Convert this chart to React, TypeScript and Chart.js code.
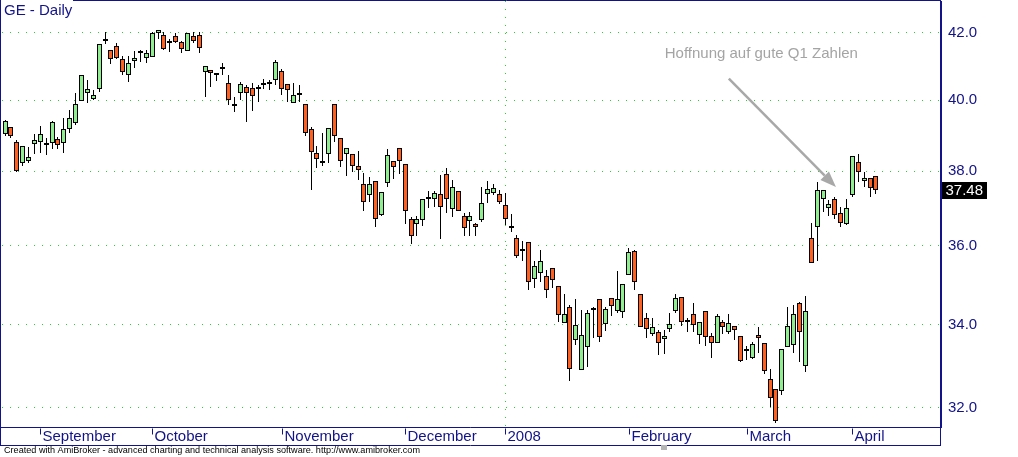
import React, { useEffect, useRef } from 'react';
import { Chart, registerables } from 'chart.js';

Chart.register(...registerables);

// ---- Data (GE daily OHLC) ----
const openPrices = [
  39.03, 39.23, 38.81, 38.22, 38.28, 38.76, 38.81, 38.73, 38.78, 38.90,
  38.78, 39.18, 39.35, 39.97, 40.21, 40.03, 40.33, 41.75, 41.49, 41.60,
  41.22, 40.75, 41.16, 41.40, 41.25, 41.28, 42.00, 41.94, 41.70, 41.91,
  41.73, 41.46, 41.91, 41.94, 40.83, 40.89, 40.75, 40.92, 40.51, 39.83,
  40.21, 40.39, 40.36, 40.33, 40.45, 40.48, 40.60, 40.86, 40.48, 39.92,
  40.15, 39.88, 39.18, 38.50, 38.22, 38.48, 39.88, 38.92, 38.48, 38.48,
  38.14, 37.64, 37.35, 37.72, 36.81, 37.67, 38.28, 38.64, 38.20, 36.70,
  36.57, 36.68, 37.24, 37.24, 37.37, 37.92, 36.97, 37.45, 36.78, 36.65,
  36.57, 36.68, 37.37, 37.40, 37.37, 37.07, 36.47, 36.21, 35.85, 36.10,
  35.15, 35.28, 35.22, 35.43, 34.95, 34.03, 34.42, 33.62, 32.89, 33.45,
  34.35, 34.62, 34.00, 34.65, 34.32, 34.30, 35.25, 35.85, 34.77, 34.15,
  33.76, 33.81, 33.64, 33.88, 34.32, 34.67, 34.05, 34.25, 33.74, 34.32,
  33.71, 33.55, 34.07, 33.81, 33.95, 33.71, 33.35, 33.19, 33.74, 33.55,
  32.68, 32.45, 32.40, 33.45, 33.50, 34.52, 32.99, 36.19, 36.50, 37.24,
  36.99, 37.24, 36.86, 36.57, 37.35, 38.25, 37.72, 37.80, 37.86,
];
const highPrices = [
  39.43, 39.23, 38.87, 38.70, 38.67, 39.03, 39.26, 38.92, 39.40, 38.95,
  39.49, 39.72, 40.20, 40.75, 40.60, 40.30, 41.66, 42.03, 41.49, 41.70,
  41.31, 41.31, 41.46, 41.49, 41.49, 42.03, 42.09, 42.03, 41.82, 42.00,
  41.76, 42.00, 42.03, 42.03, 41.00, 40.89, 40.80, 41.10, 40.75, 40.09,
  40.54, 40.45, 40.51, 40.45, 40.63, 40.60, 41.19, 40.92, 40.48, 40.51,
  40.45, 39.88, 39.23, 38.70, 39.06, 39.20, 39.88, 38.92, 38.64, 38.48,
  38.56, 37.94, 37.83, 37.72, 37.43, 38.62, 38.28, 38.64, 38.20, 36.76,
  36.78, 37.24, 37.45, 37.45, 37.89, 38.08, 37.75, 37.45, 36.86, 36.89,
  36.60, 37.56, 37.72, 37.64, 37.48, 37.40, 36.84, 36.29, 36.13, 36.10,
  35.59, 35.88, 35.38, 35.43, 34.95, 34.75, 34.49, 34.62, 34.35, 34.35,
  34.42, 34.62, 34.42, 34.65, 35.35, 35.02, 35.93, 35.88, 34.77, 34.27,
  34.15, 33.86, 33.86, 34.27, 34.75, 34.67, 34.17, 34.52, 34.07, 34.32,
  33.79, 34.25, 34.12, 34.25, 33.95, 33.71, 33.47, 33.57, 33.93, 33.55,
  32.92, 32.45, 33.40, 34.42, 34.47, 34.55, 34.70, 36.60, 37.70, 37.48,
  37.21, 37.29, 37.02, 37.24, 38.42, 38.48, 37.97, 37.80, 37.86,
];
const lowPrices = [
  38.97, 38.93, 37.98, 38.14, 38.22, 38.48, 38.50, 38.45, 38.62, 38.62,
  38.50, 39.06, 39.29, 39.97, 39.92, 40.00, 40.24, 41.66, 41.07, 41.22,
  40.75, 40.54, 40.95, 41.13, 41.10, 41.28, 41.82, 41.49, 41.43, 41.70,
  41.40, 41.46, 41.70, 41.40, 40.09, 40.39, 40.57, 40.75, 39.86, 39.66,
  40.00, 39.37, 39.69, 39.95, 40.33, 40.30, 40.45, 40.15, 39.95, 39.92,
  39.95, 38.98, 37.48, 38.08, 38.14, 38.22, 38.81, 38.11, 37.86, 37.98,
  37.75, 36.91, 37.16, 36.50, 36.78, 37.56, 37.78, 37.92, 36.57, 36.05,
  36.24, 36.52, 36.99, 37.02, 36.16, 36.86, 36.76, 36.91, 36.26, 36.24,
  36.24, 36.62, 37.13, 37.35, 37.10, 36.55, 36.36, 35.67, 35.59, 34.87,
  34.90, 35.07, 34.65, 34.92, 34.05, 34.03, 32.63, 33.50, 32.89, 32.97,
  33.66, 33.57, 33.83, 34.20, 34.27, 34.17, 35.25, 34.87, 33.93, 33.66,
  33.71, 33.26, 33.28, 33.81, 34.27, 33.95, 33.81, 33.81, 33.52, 33.47,
  33.19, 33.55, 33.76, 33.76, 33.62, 33.09, 33.14, 33.16, 33.31, 32.80,
  32.03, 31.65, 32.31, 33.45, 33.31, 33.09, 32.85, 35.54, 35.59, 36.89,
  36.78, 36.70, 36.50, 36.55, 37.29, 37.70, 37.56, 37.29, 37.37,
];
const closePrices = [
  39.40, 38.98, 38.00, 38.70, 38.39, 38.87, 39.03, 38.73, 39.37, 38.73,
  39.18, 39.49, 39.88, 40.75, 40.33, 40.15, 41.66, 41.75, 41.22, 41.25,
  40.83, 41.10, 41.25, 41.40, 41.40, 42.00, 42.09, 41.52, 41.70, 41.73,
  41.52, 42.00, 41.76, 41.55, 41.00, 40.80, 40.75, 40.98, 40.00, 39.83,
  40.48, 40.21, 40.12, 40.33, 40.51, 40.48, 41.13, 40.33, 40.30, 40.15,
  40.15, 39.06, 38.53, 38.34, 38.22, 39.20, 38.98, 38.28, 38.64, 38.14,
  38.03, 37.16, 37.64, 36.70, 37.43, 38.45, 38.11, 38.28, 36.91, 36.24,
  36.70, 37.24, 37.24, 37.40, 37.02, 37.24, 37.56, 36.91, 36.47, 36.78,
  36.50, 37.13, 37.51, 37.53, 37.16, 36.70, 36.47, 35.72, 35.85, 35.07,
  35.48, 35.59, 34.85, 35.12, 34.22, 34.25, 32.92, 33.98, 33.74, 34.27,
  34.35, 33.69, 34.39, 34.45, 34.62, 35.02, 35.82, 35.05, 33.93, 33.88,
  33.93, 33.55, 33.71, 34.00, 34.65, 34.07, 34.05, 33.98, 34.05, 33.69,
  33.55, 34.20, 33.93, 34.03, 33.86, 33.11, 33.40, 33.52, 33.66, 32.87,
  32.23, 31.70, 33.40, 33.95, 34.25, 33.81, 34.32, 35.56, 37.48, 37.48,
  37.10, 36.81, 36.60, 36.99, 38.42, 37.97, 37.80, 37.53, 37.48,
];

// month labels on the date axis (bar index of first trading day)
const monthTickIndex = [6, 25, 47, 68, 85, 106, 126, 144];
const monthTickText = ['September', 'October', 'November', 'December', '2008', 'February', 'March', 'April'];
const yearBreakIndex = 85;

// price axis
const priceTicks = [32, 34, 36, 38, 40, 42];
const priceMin = 31.562;
const priceMax = 42.986;
const lastPrice = 37.48;

// bar-index range shown (includes empty space on the right)
const indexMin = -0.51;
const indexMax = 159.05;

// annotation
const annotationText = 'Hoffnung auf gute Q1 Zahlen';
const annotationAt = { index: 112.1, price: 41.25 };
const arrowFrom = { index: 123.0, price: 40.63 };
const arrowTo = { index: 141.2, price: 37.56 };

const titleText = 'GE - Daily';
const footerText = 'Created with AmiBroker - advanced charting and technical analysis software. http://www.amibroker.com';

// ---- Styles ----
const FONT = '"Liberation Sans", Arial, Helvetica, sans-serif';
const NAVY = '#12128a';
const GRID_GREEN = '#2ccf2c';
const UP_FILL = '#90ee90';
const DOWN_FILL = '#ff6020';

// snap bar elements (already positioned by the scales) to whole pixels for a crisp look
const crispBarsPlugin = {
  id: 'crispBars',
  beforeDatasetsDraw(chart: any) {
    chart.data.datasets.forEach((_: any, di: number) => {
      const meta = chart.getDatasetMeta(di);
      meta.data.forEach((el: any) => {
        el.x = Math.floor(el.x) + 0.5;
        el.y = Math.round(el.y);
        el.base = Math.round(el.base);
      });
    });
  },
};

const overlayPlugin = {
  id: 'amiOverlay',
  afterDraw(chart: any) {
    const { ctx, chartArea } = chart;
    const xs = chart.scales.x;
    const ys = chart.scales.y;
    const right = Math.round(chartArea.right) - 0.5;
    const bottom = Math.round(chartArea.bottom) + 0.5;
    const boxBottom = 445.5;
    ctx.save();

    // frame
    ctx.strokeStyle = NAVY;
    ctx.lineWidth = 1;
    ctx.beginPath();
    ctx.moveTo(0.5, 0);
    ctx.lineTo(0.5, boxBottom);
    ctx.moveTo(73, 0.5);
    ctx.lineTo(right, 0.5);
    ctx.moveTo(right, 0);
    ctx.lineTo(right, boxBottom);
    ctx.moveTo(0, boxBottom);
    ctx.lineTo(right + 0.5, boxBottom);
    ctx.moveTo(0, bottom);
    ctx.lineTo(right, bottom);
    ctx.stroke();

    // title
    ctx.font = `15px ${FONT}`;
    ctx.fillStyle = NAVY;
    ctx.textAlign = 'left';
    ctx.textBaseline = 'alphabetic';
    ctx.fillText(titleText, 4, 15);

    // month ticks + labels
    monthTickIndex.forEach((idx, k) => {
      const x = Math.round(xs.getPixelForValue(idx)) + 0.5;
      ctx.beginPath();
      ctx.moveTo(x, bottom + 1);
      ctx.lineTo(x, bottom + 7);
      ctx.stroke();
      ctx.fillText(monthTickText[k], x + 2, bottom + 13);
    });

    // last price box
    const py = ys.getPixelForValue(lastPrice);
    ctx.fillStyle = '#000';
    ctx.fillRect(right + 1.5, Math.round(py) - 8, 45, 17);
    ctx.fillStyle = '#fff';
    ctx.textBaseline = 'middle';
    ctx.fillText(lastPrice.toFixed(2), right + 5, Math.round(py) + 1);

    // annotation text
    ctx.fillStyle = '#a4a4a4';
    ctx.textBaseline = 'alphabetic';
    ctx.fillText(annotationText, xs.getPixelForValue(annotationAt.index), ys.getPixelForValue(annotationAt.price));

    // arrow
    const x0 = xs.getPixelForValue(arrowFrom.index);
    const y0 = ys.getPixelForValue(arrowFrom.price);
    const x1 = xs.getPixelForValue(arrowTo.index);
    const y1 = ys.getPixelForValue(arrowTo.price);
    const ang = Math.atan2(y1 - y0, x1 - x0);
    const headLen = 16;
    const headHalf = 6;
    const bx = x1 - headLen * Math.cos(ang);
    const by = y1 - headLen * Math.sin(ang);
    ctx.strokeStyle = '#a8a8a8';
    ctx.fillStyle = '#a8a8a8';
    ctx.lineWidth = 2.5;
    ctx.beginPath();
    ctx.moveTo(x0, y0);
    ctx.lineTo(bx, by);
    ctx.stroke();
    ctx.beginPath();
    ctx.moveTo(x1, y1);
    ctx.lineTo(bx + headHalf * Math.sin(ang), by - headHalf * Math.cos(ang));
    ctx.lineTo(bx - headHalf * Math.sin(ang), by + headHalf * Math.cos(ang));
    ctx.closePath();
    ctx.fill();

    // scrollbar marker
    ctx.fillStyle = '#b4b4b4';
    ctx.fillRect(661, 445, 6, 5);

    // footer
    ctx.fillStyle = '#000';
    ctx.font = `9.1px ${FONT}`;
    ctx.fillText(footerText, 4, 453);

    ctx.restore();
  },
};

export default function App() {
  const canvasRef = useRef<HTMLCanvasElement | null>(null);

  useEffect(() => {
    document.body.style.margin = '0';
    const canvas = canvasRef.current;
    if (!canvas) return;

    const bodies = openPrices.map((o, i) => ({ x: i, y: [o, closePrices[i]] }));
    const wicks = lowPrices.map((l, i) => ({ x: i, y: [l, highPrices[i]] }));
    const bodyColors = openPrices.map((o, i) =>
      closePrices[i] > o ? UP_FILL : closePrices[i] < o ? DOWN_FILL : '#000'
    );

    const chart = new Chart(canvas, {
      type: 'bar',
      data: {
        datasets: [
          {
            label: 'Body',
            data: bodies as any,
            backgroundColor: bodyColors,
            borderColor: '#000',
            borderWidth: 1,
            borderSkipped: false,
            barThickness: 5,
            minBarLength: 2,
            grouped: false,
            inflateAmount: 0,
            order: 0,
          } as any,
          {
            label: 'Wick',
            data: wicks as any,
            backgroundColor: '#000',
            borderWidth: 0,
            barThickness: 1,
            grouped: false,
            inflateAmount: 0,
            order: 1,
          } as any,
        ],
      },
      options: {
        responsive: false,
        maintainAspectRatio: false,
        devicePixelRatio: 1,
        animation: false,
        layout: { padding: { left: 2, top: 1, right: 0, bottom: 0 } },
        plugins: { legend: { display: false }, tooltip: { enabled: false }, title: { display: false } },
        scales: {
          x: {
            type: 'linear',
            min: indexMin,
            max: indexMax,
            offset: false,
            afterBuildTicks: (s: any) => {
              s.ticks = monthTickIndex.map((v) => ({ value: v }));
            },
            afterFit: (s: any) => {
              s.height = 30;
              s.paddingLeft = 0;
              s.paddingRight = 0;
            },
            ticks: { display: false, autoSkip: false },
            grid: {
              offset: false,
              drawTicks: false,
              color: GRID_GREEN,
              lineWidth: (c: any) => (c.tick && c.tick.value === yearBreakIndex ? 1 : 0),
            },
            border: { display: false, dash: [1, 7] },
          },
          y: {
            type: 'logarithmic',
            position: 'right',
            min: priceMin,
            max: priceMax,
            bounds: 'data',
            afterBuildTicks: (s: any) => {
              s.ticks = priceTicks.map((v) => ({ value: v }));
            },
            afterFit: (s: any) => {
              s.width = 77;
              s.paddingTop = 0;
              s.paddingBottom = 0;
            },
            ticks: {
              color: NAVY,
              font: { family: FONT, size: 15 },
              padding: 7,
              callback: (v: any) => Number(v).toFixed(1),
            },
            grid: { drawTicks: false, color: GRID_GREEN, lineWidth: 1 },
            border: { display: true, color: NAVY, width: 1, dash: [1, 7] },
          },
        },
      },
      plugins: [crispBarsPlugin, overlayPlugin],
    } as any);

    return () => chart.destroy();
  }, []);

  return (
    <div style={{ width: 1018, height: 457 }}>
      <canvas ref={canvasRef} width={1018} height={457} style={{ display: 'block' }} />
    </div>
  );
}
